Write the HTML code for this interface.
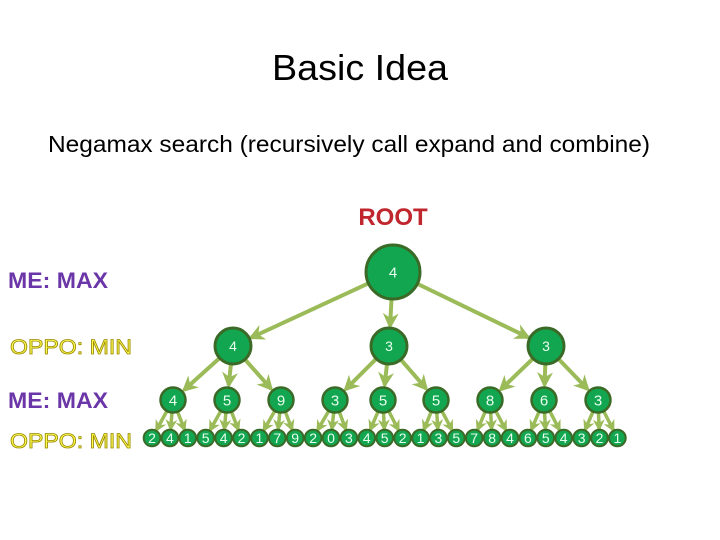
<!DOCTYPE html>
<html><head><meta charset="utf-8"><style>
html,body{margin:0;padding:0;background:#fff;width:720px;height:540px;overflow:hidden}
svg{display:block}
</style></head><body>
<svg id="s" width="720" height="540" xmlns="http://www.w3.org/2000/svg" font-family="Liberation Sans, sans-serif">
<defs>
<marker id="a" viewBox="0 0 10 10" refX="8" refY="5" markerWidth="4" markerHeight="4" orient="auto"><path d="M0,0 L10,5 L0,10 L3,5 z" fill="#9bbb59"/></marker>
<marker id="b" viewBox="0 0 10 10" refX="8" refY="5" markerWidth="3.4" markerHeight="3.4" orient="auto"><path d="M0,0 L10,5 L0,10 L3,5 z" fill="#9bbb59"/></marker>
</defs>
<text x="360" y="80" text-anchor="middle" font-size="36" fill="#000" textLength="176" lengthAdjust="spacingAndGlyphs">Basic Idea</text>
<text x="48" y="152" font-size="23" fill="#000" textLength="602" lengthAdjust="spacingAndGlyphs">Negamax search (recursively call expand and combine)</text>
<text x="393" y="225" text-anchor="middle" font-size="24" font-weight="bold" fill="#c0262d">ROOT</text>
<text x="8" y="288" font-size="22" font-weight="bold" fill="#6a36a8" textLength="100" lengthAdjust="spacingAndGlyphs">ME: MAX</text>
<text x="10" y="354" font-size="21" fill="#ffff50" stroke="#9a8a00" stroke-width="0.8" textLength="122" lengthAdjust="spacingAndGlyphs">OPPO: MIN</text>
<text x="8" y="408" font-size="22" font-weight="bold" fill="#6a36a8" textLength="100" lengthAdjust="spacingAndGlyphs">ME: MAX</text>
<text x="10" y="448" font-size="21" fill="#ffff50" stroke="#9a8a00" stroke-width="0.8" textLength="122" lengthAdjust="spacingAndGlyphs">OPPO: MIN</text>
<g id="g"></g>
</svg>
<script>
var g=document.getElementById('g'),e='',n='';
function line(x1,y1,x2,y2,r,w,m){var dx=x2-x1,dy=y2-y1,d=Math.hypot(dx,dy);x2-=dx/d*r;y2-=dy/d*r;e+='<line x1="'+x1+'" y1="'+y1+'" x2="'+x2+'" y2="'+y2+'" stroke="#9bbb59" stroke-width="'+w+'" marker-end="url(#'+m+')"/>';}
function node(x,y,r,t,fs,sw){n+='<circle cx="'+x+'" cy="'+y+'" r="'+r+'" fill="#12a650" stroke="#3b6a27" stroke-width="'+sw+'"/><text x="'+x+'" y="'+(y+fs*0.36)+'" text-anchor="middle" font-size="'+fs+'" fill="#e8fff0">'+t+'</text>';}
var R=[393,272],L1=[[233,346,'4'],[389,346,'3'],[546,346,'3']];
var L2x=[173,227,281,335,383,436,490,544,598],L2v=['4','5','9','3','5','5','8','6','3'];
var lv='241542179203452135784654321'.split('');
for(var i=0;i<3;i++)line(R[0],R[1],L1[i][0],L1[i][1],20,4,'a');
for(var j=0;j<9;j++){var p=L1[Math.floor(j/3)];line(p[0],p[1],L2x[j],400,15,4,'a');}
var lx=[];for(var k=0;k<27;k++)lx.push(152+k*17.9);
for(var k=0;k<27;k++){var px=L2x[Math.floor(k/3)];line(px,400,lx[k],438,9,3.5,'b');}
node(393,272,27,'4',15,3);
L1.forEach(function(q){node(q[0],q[1],18,q[2],14,3);});
for(var j=0;j<9;j++)node(L2x[j],400,12.5,L2v[j],15,2.5);
for(var k=0;k<27;k++)node(lx[k],438,8.3,lv[k],14,2);
g.innerHTML=e+n;
</script>
</body></html>
